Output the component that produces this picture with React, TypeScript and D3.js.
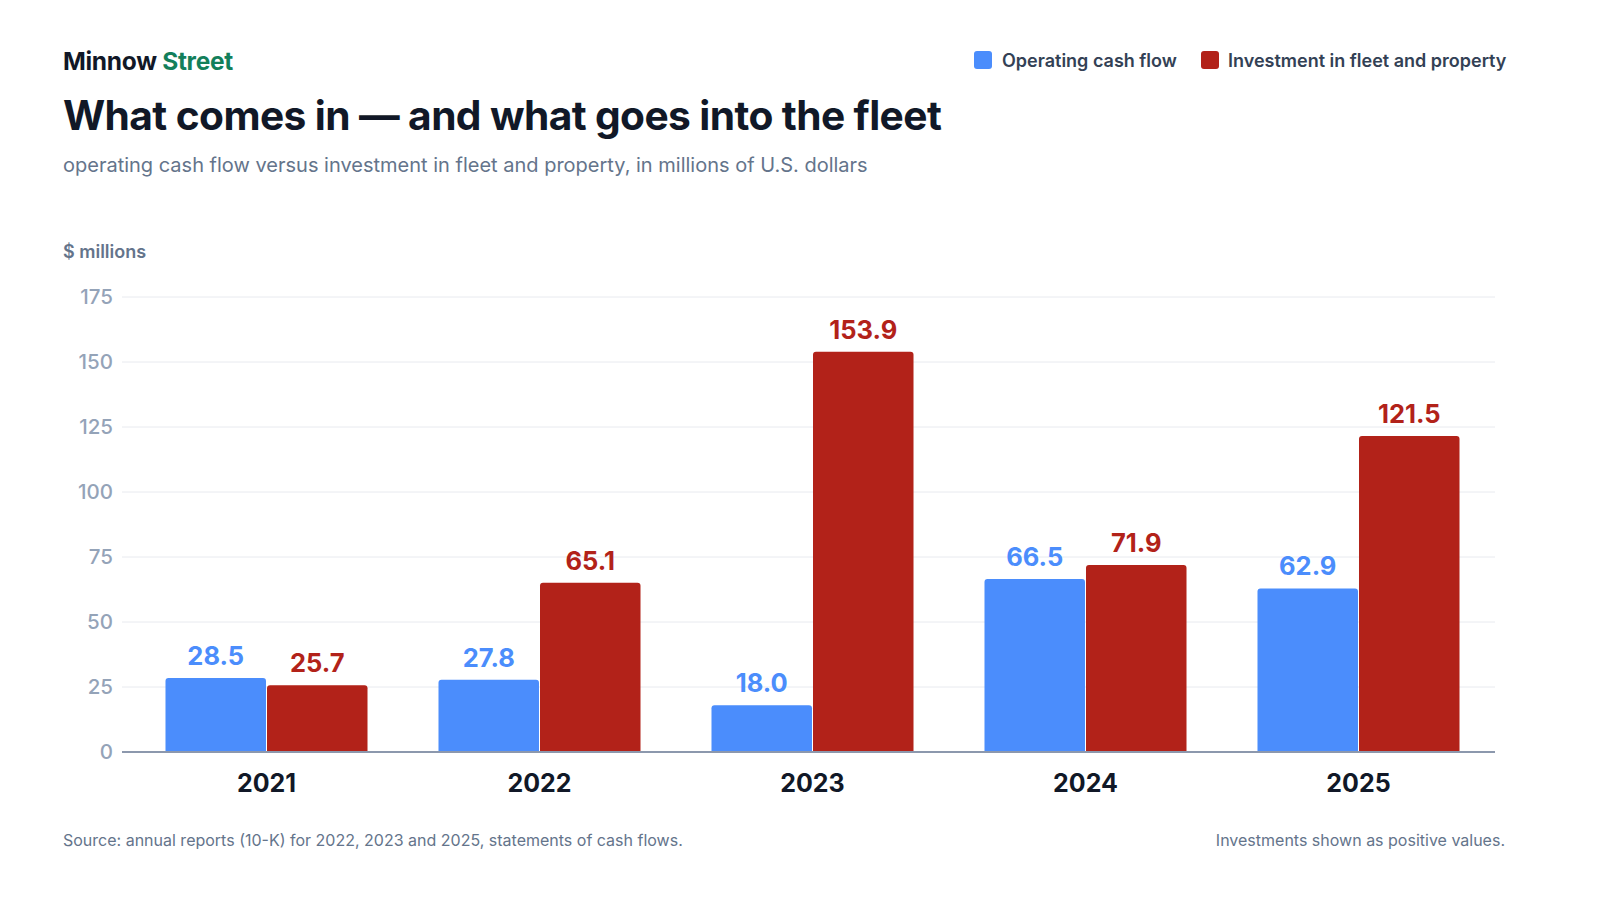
import React, { useEffect } from "react";
import * as d3 from "d3";

const years = ["2021", "2022", "2023", "2024", "2025"];
const operatingCashFlow = [28.5, 27.8, 18.0, 66.5, 62.9];
const fleetInvestment = [25.7, 65.1, 153.9, 71.9, 121.5];
const yTicks = [0, 25, 50, 75, 100, 125, 150, 175];

const seriesNames = ["Operating cash flow", "Investment in fleet and property"];
const seriesColors = ["#4b8dfc", "#b22219"];

const W = 1600;
const H = 900;
const FONT = "Inter, 'Noto Sans', sans-serif";

export default function App(): React.ReactElement {
  useEffect(() => {
    // drop the default body margin so the svg fills the window exactly
    document.body.style.margin = "0";
    document.body.style.overflow = "hidden";
  }, []);

  const margin = { left: 122, right: 1495, top: 297, bottom: 752 };

  const y = d3.scaleLinear().domain([0, 175]).range([margin.bottom, margin.top]);

  const x = d3
    .scaleBand<string>()
    .domain(years)
    .range([130, margin.right])
    .paddingInner(0.26)
    .paddingOuter(0.13);

  const inner = d3
    .scaleBand<number>()
    .domain([0, 1])
    .range([0, x.bandwidth()])
    .paddingInner(0.01);

  const series = [operatingCashFlow, fleetInvestment];

  return (
    <svg
      width={W}
      height={H}
      viewBox={`0 0 ${W} ${H}`}
      style={{ display: "block", background: "#fff" }}
      fontFamily={FONT}
    >
      {/* header */}
      <text x={63} y={70} fontSize={24.5} fontWeight={700} fill="#111827" letterSpacing={-0.3}>
        Minnow <tspan fill="#137f5b">Street</tspan>
      </text>
      <text x={63} y={130} fontSize={40.7} fontWeight={700} fill="#111827" letterSpacing={-0.6}>
        What comes in — and what goes into the fleet
      </text>
      <text x={63} y={172} fontSize={20} fill="#64748b">
        operating cash flow versus investment in fleet and property, in millions of U.S. dollars
      </text>

      {/* legend */}
      <g>
        <rect x={974} y={51} width={18} height={18} rx={3} fill={seriesColors[0]} />
        <text x={1002} y={67} fontSize={18} fontWeight={600} fill="#334155">
          {seriesNames[0]}
        </text>
        <rect x={1201} y={51} width={18} height={18} rx={3} fill={seriesColors[1]} />
        <text x={1228} y={67} fontSize={18} fontWeight={600} fill="#334155">
          {seriesNames[1]}
        </text>
      </g>

      {/* y axis label */}
      <text x={63} y={258} fontSize={18} fontWeight={600} fill="#64748b">
        $ millions
      </text>

      {/* grid + ticks */}
      {yTicks.map((t) => (
        <g key={t}>
          {t > 0 && (
            <line x1={margin.left} x2={margin.right} y1={y(t)} y2={y(t)} stroke="#e8eaef" strokeWidth={1} />
          )}
          <text x={113} y={y(t)} dy="0.35em" textAnchor="end" fontSize={20.5} fontWeight={500} fill="#94a3b8">
            {t}
          </text>
        </g>
      ))}

      {/* bars */}
      {years.map((yr, i) => (
        <g key={yr} transform={`translate(${x(yr)},0)`}>
          {series.map((s, k) => {
            const v = s[i];
            const bx = inner(k) as number;
            const bw = inner.bandwidth();
            const top = y(v);
            return (
              <g key={k}>
                <path
                  d={`M${bx},${y(0)}V${top + 3}Q${bx},${top} ${bx + 3},${top}H${bx + bw - 3}Q${bx + bw},${top} ${bx + bw},${top + 3}V${y(0)}Z`}
                  fill={seriesColors[k]}
                />
                <text
                  x={bx + bw / 2}
                  y={top - 13}
                  textAnchor="middle"
                  fontSize={25.5}
                  fontWeight={700}
                  fill={seriesColors[k]}
                >
                  {v.toFixed(1)}
                </text>
              </g>
            );
          })}
        </g>
      ))}

      {/* baseline */}
      <line x1={margin.left} x2={margin.right} y1={y(0)} y2={y(0)} stroke="#8c98ad" strokeWidth={2} />

      {/* x labels */}
      {years.map((yr) => (
        <text
          key={yr}
          x={(x(yr) as number) + x.bandwidth() / 2}
          y={792}
          textAnchor="middle"
          fontSize={25}
          fontWeight={700}
          fill="#111827"
        >
          {yr}
        </text>
      ))}

      {/* footer */}
      <text x={63} y={846} fontSize={16} fill="#64748b">
        Source: annual reports (10-K) for 2022, 2023 and 2025, statements of cash flows.
      </text>
      <text x={1505} y={846} textAnchor="end" fontSize={16} fill="#64748b">
        Investments shown as positive values.
      </text>
    </svg>
  );
}
